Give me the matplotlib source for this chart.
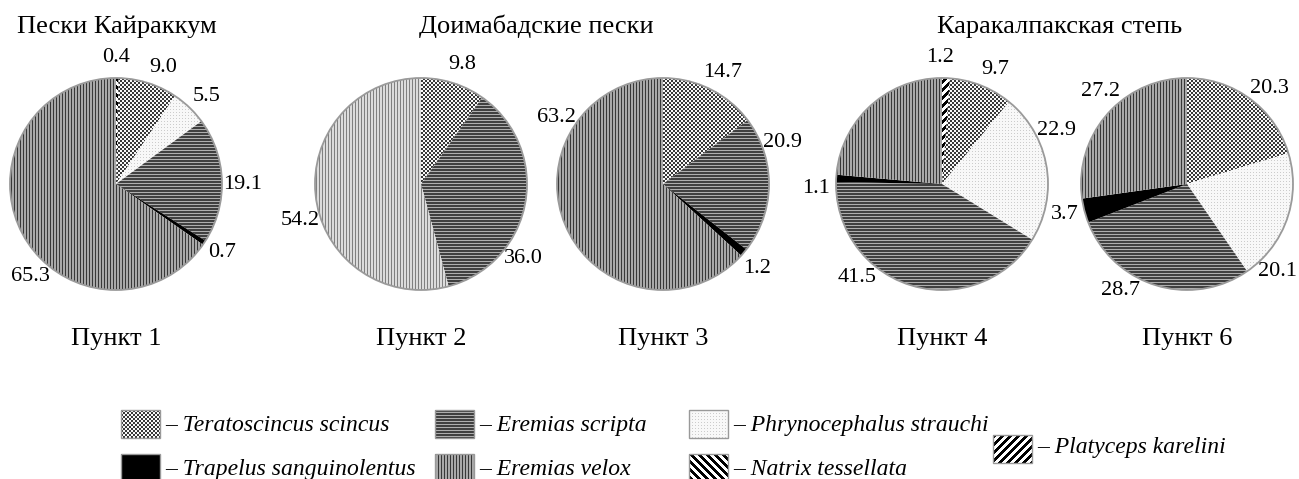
import numpy as np
import matplotlib
matplotlib.use("Agg")
import matplotlib.pyplot as plt
from matplotlib.patches import Rectangle, Circle

W, H = 1299, 479

species = ["Natrix tessellata", "Platyceps karelini", "Teratoscincus scincus",
           "Phrynocephalus strauchi", "Eremias scripta", "Trapelus sanguinolentus",
           "Eremias velox"]

# share of each species (%), same order as `species`, 0 = not found
site1 = [0.4, 0.0, 9.0, 5.5, 19.1, 0.7, 65.3]
site2 = [0.0, 0.0, 9.8, 0.0, 36.0, 0.0, 54.2]
site3 = [0.0, 0.0, 14.7, 0.0, 20.9, 1.2, 63.2]
site4 = [0.0, 1.2, 9.7, 22.9, 41.5, 1.1, 23.6]
site6 = [0.0, 0.0, 20.3, 20.1, 28.7, 3.7, 27.2]
sites = [site1, site2, site3, site4, site6]

site_names = ["Пункт 1", "Пункт 2", "Пункт 3", "Пункт 4", "Пункт 6"]
region_names = ["Пески Кайраккум", "Доимабадские пески", "Каракалпакская степь"]

# ---- layout (pixels, y measured from the top) ----
pie_cx = [116, 421, 663, 942, 1187]
pie_cy = 184
R = 106
region_x = [117, 536, 1060]
# direction of each value label, degrees clockwise from 12 o'clock (None = no label)
label_dir = [
    [0, None, 22, 46, 90, 123, 223],
    [None, None, 19, None, 126, None, 253],
    [None, None, 28, None, 71, 132, 302],
    [None, -1, 25, 65, 222, 268, None],
    [None, None, 41, 134, 212, 256, 317],
]
pattern = ["natrix", "platyceps", "checker", "dots", "hstripes", "black", "vstripes"]
legend_order = [2, 4, 3, 5, 6, 0, 1]
legend_xy = [(121, 410), (435, 410), (689, 410), (121, 454), (435, 454), (689, 454), (993, 435)]
legend_base = [431, 431, 431, 475, 475, 475, 453]

plt.rcParams['font.family'] = ['Liberation Serif', 'DejaVu Serif']


def texture(kind, w, h, light=False):
    yy, xx = np.mgrid[0:h, 0:w]
    if kind == "checker":
        v = np.where(((xx // 2) + (yy // 2)) % 2 == 0, 0.22, 0.97)
    elif kind == "hstripes":
        v = np.where(yy % 3 == 2, 0.68, 0.25)
    elif kind == "vstripes":
        if light:
            v = np.where(xx % 3 == 0, 0.5, 0.86)
        else:
            v = np.where(xx % 3 == 0, 0.22, 0.66)
    elif kind == "dots":
        v = np.where((xx % 3 == 0) & (yy % 3 == 0), 0.8, 0.97)
    elif kind == "natrix":
        v = np.where(((xx - yy) // 4) % 2 == 0, 0.0, 1.0)
    elif kind == "platyceps":
        v = np.where(((xx + yy) // 4) % 2 == 0, 0.0, 1.0)
    else:
        v = np.zeros((h, w))
    return v


fig = plt.figure(figsize=(W / 100, H / 100), dpi=100)
ax = fig.add_axes([0, 0, 1, 1])

for i, vals in enumerate(sites):
    cx, cy = pie_cx[i], H - pie_cy
    idx = [k for k, v in enumerate(vals) if v > 0]
    wedges, _ = ax.pie([vals[k] for k in idx], center=(cx, cy), radius=R,
                       startangle=90, counterclock=False, frame=True,
                       wedgeprops=dict(facecolor='none', edgecolor='none'))
    x0, y0 = cx - R - 2, cy - R - 2
    for w, k in zip(wedges, idx):
        tex = texture(pattern[k], 2 * R + 4, 2 * R + 4, light=(i == 1))
        im = ax.imshow(tex, cmap='gray', vmin=0, vmax=1, interpolation='nearest',
                       extent=(x0, x0 + 2 * R + 4, y0, y0 + 2 * R + 4))
        im.set_clip_path(w)
        a = label_dir[i][k]
        if a is not None:
            th = np.radians(a)
            ax.text(cx + 1.19 * R * np.sin(th), cy + 1.19 * R * np.cos(th),
                    f"{vals[k]:.1f}", ha='center', va='center', fontsize=16)
    ax.add_patch(Circle((cx, cy), R, fill=False, edgecolor='#9a9a9a', lw=1.3))
    ax.text(cx, H - 345, site_names[i], ha='center', va='baseline', fontsize=19)

for x, name in zip(region_x, region_names):
    ax.text(x, H - 33, name, ha='center', va='baseline', fontsize=19)

# legend
sw, sh = 39, 28
for (lx, ly), base, k in zip(legend_xy, legend_base, legend_order):
    y = H - ly - sh
    tex = texture(pattern[k], sw, sh)
    ax.imshow(tex, cmap='gray', vmin=0, vmax=1, interpolation='nearest',
              extent=(lx, lx + sw, y, y + sh))
    ax.add_patch(Rectangle((lx, y), sw, sh, fill=False, edgecolor='#999999', lw=1))
    ax.text(lx + sw + 5, H - base, "– " + species[k], ha='left', va='baseline',
            fontsize=17, style='italic')

ax.set_xlim(0, W)
ax.set_ylim(0, H)
ax.set_aspect('auto')
ax.axis('off')

fig.savefig("out.png", dpi=100)
